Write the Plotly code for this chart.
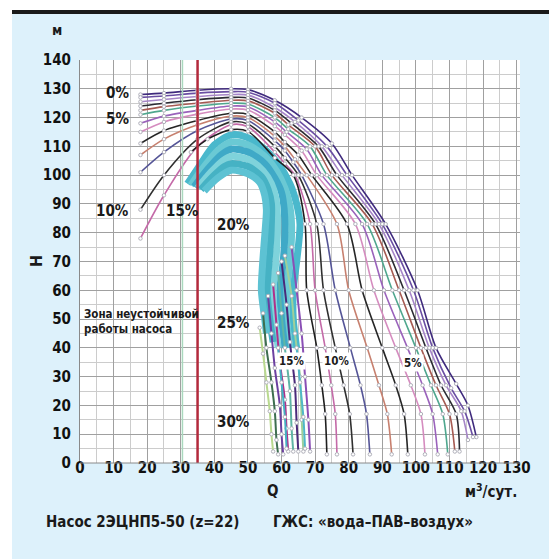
import plotly.graph_objects as go

# ---------------- data ----------------
X_TICKS = [0, 10, 20, 30, 40, 50, 60, 70, 80, 90, 100, 110, 120, 130]
Y_TICKS = [0, 10, 20, 30, 40, 50, 60, 70, 80, 90, 100, 110, 120, 130, 140]

# upper family (low gas content), points (Q, H)
c00 = [(18,128),(25,128.5),(35,129.5),(45,130),(50,129.7),(58,126),(66,120),(75,111),(81,100),(91,83),(100.5,60),(106,40),(112,27.5),(115.5,20),(118,9)]
c01 = [(18,127),(25,127.5),(35,128.5),(45,129),(50,128.8),(58,125),(65,119),(73.5,110),(79.5,100),(90,83),(99.3,60),(105,40),(110.5,26),(114.5,18),(117,9)]
c02 = [(18,125.5),(25,126.3),(35,127.3),(45,128),(50,127.8),(58,123.5),(64,118.5),(72,110),(78,100),(89,83),(98,60),(104,40),(109,27),(113.5,18),(115.5,8)]
c03 = [(18,124),(25,125),(35,126.2),(45,127),(50,126.8),(58,122.5),(63,118),(71,110),(76.5,100),(88,83),(96.5,60),(103,40),(107.5,27),(112,17),(113,4)]
c04 = [(18,122.5),(25,123.8),(35,125),(45,126),(50,125.8),(58,121.5),(62,117.5),(70,110),(75,100),(87,83),(95,60),(101.5,40),(106,27),(110,17),(111.6,4)]
c05 = [(18,121),(25,122.5),(35,124),(45,125),(50,124.7),(58,120),(62,116),(68.5,110),(73.5,100),(85.5,83),(93,60),(100,40),(104.5,27),(108,17),(109.5,3)]
c06 = [(18,118),(25,120.5),(35,122.5),(45,124),(50,123.7),(58,118.5),(61.5,115),(67.5,109),(72,100),(84,83),(90.5,60),(97.5,40),(102,27),(105,17),(106.5,3)]
c07 = [(18,115),(25,118.5),(35,121.2),(45,123),(50,122.6),(58,117),(61,114),(66,108.5),(70.5,100),(82,83),(87.5,60),(94,40),(98.5,27),(101.5,17),(102.7,3)]
c08 = [(18,111),(25,115.5),(35,119),(45,121.5),(50,121.1),(58,115),(61,111.5),(65,107),(69,100),(79.5,83),(84,60),(90,40),(94,27),(96.5,17),(97.6,3)]
c09 = [(18,107),(25,112.5),(35,117.5),(45,120.5),(50,120),(58,113.5),(61,110),(64,105.5),(67.5,100),(76.5,83),(80,60),(85.5,40),(89,27),(91.5,17),(92.8,3)]
c10 = [(18,101),(25,108),(35,115.5),(45,119.5),(50,119),(58,112),(61,108.5),(63.5,104.5),(66,100),(72.5,83),(76,60),(80.5,40),(83.5,27),(85.3,17),(86.3,3)]
c11 = [(18,88),(25,100),(35,112.5),(45,118.5),(50,117.8),(58,110),(61,106),(65,100),(70.5,83),(72.5,60),(76,40),(78.5,27),(80.3,17),(81.3,3)]
c12 = [(18,78),(25,93),(35,110),(45,117.5),(50,116.8),(58,108),(61,104),(64,100),(68.5,83),(70,60),(73,40),(74.8,27),(76,17),(76.5,3)]
c13 = [(33,108),(38,112.5),(45,115.8),(50,115.2),(58,106),(63.5,100),(67,83),(67.5,60),(70.5,40),(72,27),(73,17),(73.5,3)]

# cyan band (about 16-20 %)
cy0 = [(32,97),(36,104),(40,110.5),(45,114),(50,113),(55,109),(59,104),(62.5,97),(64.5,90),(65.5,83),(64.5,70),(63.5,60),(63.5,50),(64.5,40)]
cy1 = [(33,96.5),(37,103),(41,108.5),(45,111.5),(50,110.5),(55,106.5),(58.5,101.5),(61,95.5),(62.5,89),(63,82),(62.5,70),(61.5,60),(61.5,50),(62.5,40)]
cy2 = [(34,96),(38,102),(42,107),(45,109),(50,108),(55,104),(58,99),(60,94),(60.8,88),(61,81),(60.5,70),(59.5,60),(60,50),(61,40)]
cy3 = [(35,95.5),(39,101),(42.5,105),(45,106.5),(50,105.5),(54.5,101.5),(57,97),(58.3,92),(58.8,86),(58.8,80),(58.3,70),(57.5,60),(58,50),(59,40)]
cy4 = [(36,95),(40,100),(43,103),(45,104),(50,103),(54,99.5),(56,95),(57,90),(57,84),(56.8,78),(56.3,70),(55.7,60),(56.5,50),(57.5,42)]
cy5 = [(37,94.5),(41,99),(45,101.7),(50,100.5),(53.5,97.5),(55,93),(55.5,88),(55.2,82),(54.8,76),(54.3,68),(54,60),(55,50),(55.5,45)]

# lower steep curves (about 21-30 %)
l0 = [(53.5,47),(54.5,38),(55.5,28),(56.5,18),(57,10),(57.5,4)]
l1 = [(54.5,52),(55.5,40),(57,28),(58,18),(58.5,8),(59,3)]
l2 = [(56,58),(57,45),(58,33),(59.5,20),(60,10),(60.5,3)]
l3 = [(57.5,62),(58.5,48),(59.5,35),(61,22),(61.5,12),(62,4)]
l4 = [(59,66),(60,52),(61,40),(62.5,25),(63,12),(63.5,4)]
l5 = [(60,70),(61.5,55),(62.5,42),(64,27),(64.5,14),(65,4)]
l6 = [(61,72),(63,58),(64,45),(65.5,30),(66,15),(66.5,4)]
l7 = [(63,75),(64.5,60),(66,45),(67,30),(68,15),(68.5,4)]
l8 = [(64.5,40),(65.5,28),(66.5,16),(67,5)]
l9 = [(59,40),(60,28),(61,16),(61.5,5)]

UPPER = [c00, c01, c02, c03, c04, c05, c06, c07, c08, c09, c10, c11, c12, c13]
UPPER_COLORS = ['#3f2a7d', '#6a4ea3', '#a685c8', '#2b2b33', '#a65a52', '#4fa78e',
                '#9a62bb', '#d58cbf', '#262626', '#c7806f', '#555597', '#303030',
                '#c46aa8', '#1f1f1f']
CYAN = [cy0, cy1, cy2, cy3, cy4, cy5]
CYAN_COLORS = ['#4ab8cc', '#6ac9d4', '#3fa9c7', '#7fd3db', '#46b2c4', '#5dc2d3']
LOWER = [l0, l1, l2, l3, l4, l5, l6, l7, l8, l9]
LOWER_COLORS = ['#b9d98f', '#3d6e4f', '#6b3fa0', '#b0308a', '#5fb5a5', '#4a2a7a',
                '#9fd09a', '#8a4fb5', '#4fb8c8', '#45b0c4']

RED_LINE_Q = 35
GREEN_LINE_Q = 30.5

LABELS = [  # text, Q, H, anchor
    ("0%", 15.3, 128.5, "right"), ("5%", 15.3, 119.5, "right"),
    ("10%", 15.3, 87.5, "right"), ("15%", 30.5, 87.5, "center"),
    ("20%", 45.8, 82.6, "center"), ("25%", 45.8, 48.6, "center"),
    ("30%", 45.8, 14.2, "center"),
]
SMALL_LABELS = [("15%", 63.1, 35.4), ("10%", 76.5, 35.4), ("5%", 99.1, 34.7)]

# ---------------- figure ----------------
FONT = "DejaVu Sans Condensed, Liberation Sans Narrow, sans-serif"
OFF = 8  # page body margin of the html page
fig = go.Figure()

def add_curve(pts, color, width, markers=True):
    fig.add_trace(go.Scatter(
        x=[p[0] for p in pts], y=[p[1] for p in pts],
        mode='lines+markers' if markers else 'lines',
        line=dict(color=color, width=width, shape='spline', smoothing=0.8),
        marker=dict(size=3.5, color='white', line=dict(color='#b0b0ba', width=1)),
        showlegend=False, hoverinfo='skip'))

for pts, col in zip(CYAN, CYAN_COLORS):
    add_curve(pts, col, 7, markers=False)
for pts, col in zip(LOWER, LOWER_COLORS):
    add_curve(pts, col, 2, markers=True)
for pts, col in zip(UPPER, UPPER_COLORS):
    add_curve(pts, col, 1.6, markers=True)

# vertical reference lines
fig.add_trace(go.Scatter(x=[GREEN_LINE_Q, GREEN_LINE_Q], y=[0, 140], mode='lines',
                         line=dict(color='#a9d8bd', width=1.5), showlegend=False, hoverinfo='skip'))
fig.add_trace(go.Scatter(x=[RED_LINE_Q, RED_LINE_Q], y=[0, 140], mode='lines',
                         line=dict(color='#b3293c', width=2.5), showlegend=False, hoverinfo='skip'))

bold = dict(family=FONT, size=15, color='#1a1a1a', weight='bold')
for t, q, h, anc in LABELS:
    fig.add_annotation(x=q, y=h, text=t, showarrow=False, xanchor=anc, yanchor='middle',
                       font=bold)
for t, q, h in SMALL_LABELS:
    fig.add_annotation(x=q, y=h, text=t, showarrow=False, xanchor='center', yanchor='middle',
                       font=dict(family=FONT, size=11.5, color='#1a1a1a', weight='bold'),
                       bgcolor='white', borderpad=1)
fig.add_annotation(x=0.5, y=49, text="Зона неустойчивой<br>работы насоса", showarrow=False,
                   xanchor='left', yanchor='middle', align='left',
                   font=dict(family=FONT, size=11.5, color='#1a1a1a', weight='bold'))

# axis titles and captions (paper coords; reference pixel -> paper)
def px2paper(px, py):
    return (px - 80) / 440.0, (463 - py) / 403.0

for txt, px, py, anc, sz in [
    ("м", 57, 30, 'center', 14),
    ("Q", 272, 491, 'center', 15),
    ("м<sup>3</sup>/сут.", 519, 491, 'right', 15),
    ("Насос 2ЭЦНП5-50 (z=22)", 44, 522, 'left', 15),
    ("ГЖС: «вода–ПАВ–воздух»", 271, 522, 'left', 15),
]:
    xp, yp = px2paper(px, py)
    fig.add_annotation(x=xp, y=yp, xref='paper', yref='paper', text=txt, showarrow=False,
                       xanchor=anc, yanchor='middle',
                       font=dict(family=FONT, size=sz, color='#1a1a1a', weight='bold'))
xp, yp = px2paper(36, 261)
fig.add_annotation(x=xp, y=yp, xref='paper', yref='paper', text="Н", showarrow=False,
                   textangle=-90, xanchor='center', yanchor='middle',
                   font=dict(family=FONT, size=16, color='#1a1a1a', weight='bold'))

# frame shapes: white left strip, white top, black top bar
x0, _ = px2paper(0, 0)
x12, _ = px2paper(12, 0)
x560, _ = px2paper(570, 0)
_, ytop = px2paper(0, 0)
_, y10 = px2paper(0, 10)
_, y14 = px2paper(0, 14)
_, ybot = px2paper(0, 570)
fig.add_shape(type='rect', xref='paper', yref='paper', x0=x0, x1=x12, y0=ybot, y1=ytop,
              fillcolor='white', line=dict(width=0), layer='below')
fig.add_shape(type='rect', xref='paper', yref='paper', x0=x0, x1=x560, y0=y10, y1=ytop,
              fillcolor='white', line=dict(width=0), layer='below')
fig.add_shape(type='rect', xref='paper', yref='paper', x0=x12, x1=x560, y0=y14, y1=y10,
              fillcolor='#1a1a1a', line=dict(width=0), layer='below')
# bottom axis line
fig.add_shape(type='line', xref='paper', yref='paper', x0=0, x1=1, y0=0, y1=0,
              line=dict(color='#8a8a8a', width=1))

tickfont = dict(family=FONT, size=15, color='#111111', weight='bold')
fig.update_xaxes(range=[0, 131], tickmode='array', tickvals=X_TICKS, ticktext=[str(v) for v in X_TICKS],
                 showgrid=True, gridcolor='#a0a0a0', gridwidth=1,
                 minor=dict(dtick=5, showgrid=True, gridcolor='#cccccc', gridwidth=1),
                 zeroline=False, showline=False, anchor='free', position=6 / 403.0,
                 tickfont=tickfont, ticks='', fixedrange=True)
fig.update_yaxes(range=[0, 140], tickmode='array', tickvals=Y_TICKS, ticktext=[str(v) for v in Y_TICKS],
                 showgrid=True, gridcolor='#a0a0a0', gridwidth=1,
                 minor=dict(dtick=5, showgrid=True, gridcolor='#cccccc', gridwidth=1),
                 zeroline=False, showline=True, linecolor='#8a8a8a', linewidth=1,
                 ticklabelstandoff=5,
                 tickfont=tickfont, ticks='', fixedrange=True)

fig.update_layout(width=557, height=559,
                  margin=dict(l=80 - OFF, r=557 - 520 + OFF, t=60 - OFF, b=559 - 463 + OFF, autoexpand=False),
                  paper_bgcolor='#ddf1fb', plot_bgcolor='white', showlegend=False)

fig.write_html("out.html")
